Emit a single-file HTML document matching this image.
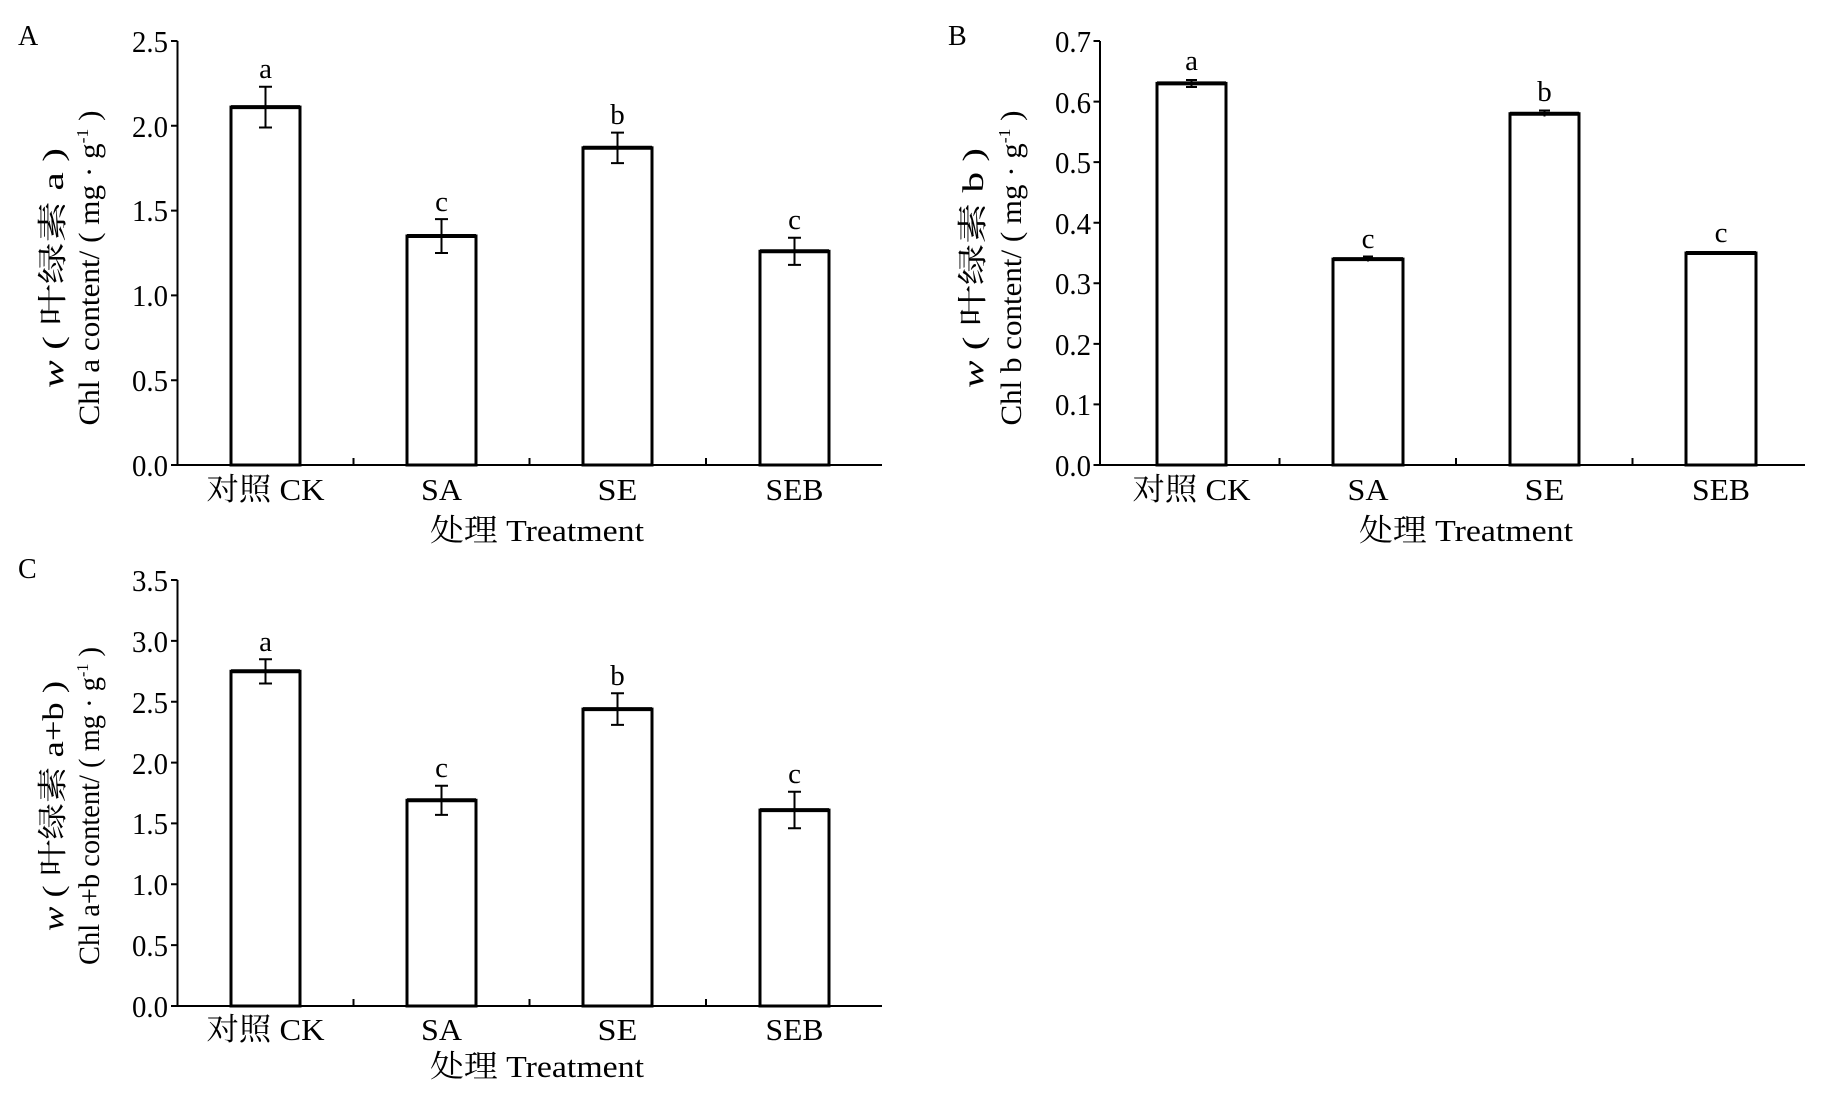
<!DOCTYPE html>
<html><head><meta charset="utf-8"><style>
body{margin:0;background:#fff}
svg text{font-family:"Liberation Serif","Noto Serif CJK SC",serif;fill:#000}
</style></head><body>
<svg width="1832" height="1097" viewBox="0 0 1832 1097" xmlns="http://www.w3.org/2000/svg">
<g font-size="31">
<!-- Panel A -->
<text x="18" y="45" font-size="28">A</text>
<g stroke="#000" stroke-width="2" fill="none">
<path d="M177.5 41 V465 H882"/>
<path d="M171 465H177.5M171 380.2H177.5M171 295.4H177.5M171 210.6H177.5M171 125.8H177.5M171 41H177.5"/>
<path d="M353.5 465V458M529.5 465V458M706 465V458"/>
</g>
<g stroke="#000" stroke-width="3" fill="#fff">
<rect x="231" y="107.1" width="69" height="357.9"/>
<rect x="407" y="236" width="69" height="229"/>
<rect x="583" y="147.8" width="69" height="317.2"/>
<rect x="760" y="251.3" width="69" height="213.7"/>
</g>
<g stroke="#000" stroke-width="4"><path d="M231 107.1H300M407 236H476M583 147.8H652M760 251.3H829"/></g>
<g stroke="#000" stroke-width="2"><path d="M265.5 86.8V127.5M259 86.8H272M259 127.5H272M441.5 219.1V253M435 219.1H448M435 253H448M617.5 132.6V163.1M611 132.6H624M611 163.1H624M794.5 237.7V264.9M788 237.7H801M788 264.9H801"/></g>
<g text-anchor="middle" font-size="29"><text x="265.5" y="78">a</text><text x="441.5" y="211">c</text><text x="617.5" y="124">b</text><text x="794.5" y="229">c</text></g>
<g text-anchor="end"><text x="168" y="476" textLength="36" lengthAdjust="spacingAndGlyphs">0.0</text><text x="168" y="391" textLength="36" lengthAdjust="spacingAndGlyphs">0.5</text><text x="168" y="306" textLength="36" lengthAdjust="spacingAndGlyphs">1.0</text><text x="168" y="221" textLength="36" lengthAdjust="spacingAndGlyphs">1.5</text><text x="168" y="137" textLength="36" lengthAdjust="spacingAndGlyphs">2.0</text><text x="168" y="52" textLength="36" lengthAdjust="spacingAndGlyphs">2.5</text></g>
<g text-anchor="middle"><text x="265.5" y="500" textLength="118" lengthAdjust="spacingAndGlyphs">对照 CK</text><text x="441.5" y="500" textLength="41" lengthAdjust="spacingAndGlyphs">SA</text><text x="617.5" y="500" textLength="40" lengthAdjust="spacingAndGlyphs">SE</text><text x="794.5" y="500" textLength="58" lengthAdjust="spacingAndGlyphs">SEB</text><text x="537" y="541" textLength="214" lengthAdjust="spacingAndGlyphs">处理 Treatment</text></g>
<g font-size="30" text-anchor="middle">
<text transform="translate(63,268) rotate(-90)" textLength="240" lengthAdjust="spacingAndGlyphs"><tspan font-style="italic">w</tspan> ( 叶绿素 a )</text>
<text transform="translate(99,268) rotate(-90)" textLength="315" lengthAdjust="spacingAndGlyphs">Chl a content/ ( mg · g<tspan font-size="17" dy="-11">-1</tspan><tspan dy="11"> )</tspan></text>
</g>

<!-- Panel B -->
<text x="948" y="45" font-size="28">B</text>
<g stroke="#000" stroke-width="2" fill="none">
<path d="M1100 41 V465 H1805"/>
<path d="M1093.5 465H1100M1093.5 404.4H1100M1093.5 343.9H1100M1093.5 283.3H1100M1093.5 222.7H1100M1093.5 162.1H1100M1093.5 101.6H1100M1093.5 41H1100"/>
<path d="M1279.5 465V458M1456 465V458M1632.5 465V458"/>
</g>
<g stroke="#000" stroke-width="3" fill="#fff">
<rect x="1157" y="83.4" width="69" height="381.6"/>
<rect x="1333" y="259.1" width="70" height="205.9"/>
<rect x="1510" y="113.7" width="69" height="351.3"/>
<rect x="1686" y="253" width="70" height="212"/>
</g>
<g stroke="#000" stroke-width="4"><path d="M1157 83.4H1226M1333 259.1H1403M1510 113.7H1579M1686 253H1756"/></g>
<g stroke="#000" stroke-width="2"><path d="M1191.5 80V87M1186 80H1197M1186 87H1197M1368 256.5V261.5M1363 256.5H1373M1544.5 110.5V116.5M1539 110.5H1550M1721 251V255"/></g>
<g text-anchor="middle" font-size="29"><text x="1191.5" y="70">a</text><text x="1368" y="248">c</text><text x="1544.5" y="101">b</text><text x="1721" y="242">c</text></g>
<g text-anchor="end"><text x="1091" y="476" textLength="36" lengthAdjust="spacingAndGlyphs">0.0</text><text x="1091" y="415" textLength="36" lengthAdjust="spacingAndGlyphs">0.1</text><text x="1091" y="355" textLength="36" lengthAdjust="spacingAndGlyphs">0.2</text><text x="1091" y="294" textLength="36" lengthAdjust="spacingAndGlyphs">0.3</text><text x="1091" y="234" textLength="36" lengthAdjust="spacingAndGlyphs">0.4</text><text x="1091" y="173" textLength="36" lengthAdjust="spacingAndGlyphs">0.5</text><text x="1091" y="113" textLength="36" lengthAdjust="spacingAndGlyphs">0.6</text><text x="1091" y="52" textLength="36" lengthAdjust="spacingAndGlyphs">0.7</text></g>
<g text-anchor="middle"><text x="1191.5" y="500" textLength="118" lengthAdjust="spacingAndGlyphs">对照 CK</text><text x="1368" y="500" textLength="41" lengthAdjust="spacingAndGlyphs">SA</text><text x="1544.5" y="500" textLength="40" lengthAdjust="spacingAndGlyphs">SE</text><text x="1721" y="500" textLength="58" lengthAdjust="spacingAndGlyphs">SEB</text><text x="1466" y="541" textLength="214" lengthAdjust="spacingAndGlyphs">处理 Treatment</text></g>
<g font-size="30" text-anchor="middle">
<text transform="translate(983,268) rotate(-90)" textLength="240" lengthAdjust="spacingAndGlyphs"><tspan font-style="italic">w</tspan> ( 叶绿素 b )</text>
<text transform="translate(1021,268) rotate(-90)" textLength="315" lengthAdjust="spacingAndGlyphs">Chl b content/ ( mg · g<tspan font-size="17" dy="-11">-1</tspan><tspan dy="11"> )</tspan></text>
</g>

<!-- Panel C -->
<text x="18" y="578" font-size="28">C</text>
<g stroke="#000" stroke-width="2" fill="none">
<path d="M177.5 580 V1006 H882"/>
<path d="M171 1006H177.5M171 945.1H177.5M171 884.3H177.5M171 823.4H177.5M171 762.6H177.5M171 701.7H177.5M171 640.9H177.5M171 580H177.5"/>
<path d="M353.5 1006V999M529.5 1006V999M706 1006V999"/>
</g>
<g stroke="#000" stroke-width="3" fill="#fff">
<rect x="231" y="671.3" width="69" height="334.7"/>
<rect x="407" y="800.3" width="69" height="205.7"/>
<rect x="583" y="709.1" width="69" height="296.9"/>
<rect x="760" y="810.1" width="69" height="195.9"/>
</g>
<g stroke="#000" stroke-width="4"><path d="M231 671.3H300M407 800.3H476M583 709.1H652M760 810.1H829"/></g>
<g stroke="#000" stroke-width="2"><path d="M265.5 659.2V683.5M259 659.2H272M259 683.5H272M441.5 785.7V814.9M435 785.7H448M435 814.9H448M617.5 693.2V724.9M611 693.2H624M611 724.9H624M794.5 791.8V828.3M788 791.8H801M788 828.3H801"/></g>
<g text-anchor="middle" font-size="29"><text x="265.5" y="651">a</text><text x="441.5" y="777">c</text><text x="617.5" y="685">b</text><text x="794.5" y="783">c</text></g>
<g text-anchor="end"><text x="168" y="1017" textLength="36" lengthAdjust="spacingAndGlyphs">0.0</text><text x="168" y="956" textLength="36" lengthAdjust="spacingAndGlyphs">0.5</text><text x="168" y="895" textLength="36" lengthAdjust="spacingAndGlyphs">1.0</text><text x="168" y="834" textLength="36" lengthAdjust="spacingAndGlyphs">1.5</text><text x="168" y="774" textLength="36" lengthAdjust="spacingAndGlyphs">2.0</text><text x="168" y="713" textLength="36" lengthAdjust="spacingAndGlyphs">2.5</text><text x="168" y="652" textLength="36" lengthAdjust="spacingAndGlyphs">3.0</text><text x="168" y="591" textLength="36" lengthAdjust="spacingAndGlyphs">3.5</text></g>
<g text-anchor="middle"><text x="265.5" y="1040" textLength="118" lengthAdjust="spacingAndGlyphs">对照 CK</text><text x="441.5" y="1040" textLength="41" lengthAdjust="spacingAndGlyphs">SA</text><text x="617.5" y="1040" textLength="40" lengthAdjust="spacingAndGlyphs">SE</text><text x="794.5" y="1040" textLength="58" lengthAdjust="spacingAndGlyphs">SEB</text><text x="537" y="1077" textLength="214" lengthAdjust="spacingAndGlyphs">处理 Treatment</text></g>
<g font-size="30" text-anchor="middle">
<text transform="translate(63,806) rotate(-90)" textLength="250" lengthAdjust="spacingAndGlyphs"><tspan font-style="italic">w</tspan> ( 叶绿素 a+b )</text>
<text transform="translate(99,806) rotate(-90)" textLength="318" lengthAdjust="spacingAndGlyphs">Chl a+b content/ ( mg · g<tspan font-size="17" dy="-11">-1</tspan><tspan dy="11"> )</tspan></text>
</g>
</g>
</svg>
</body></html>
